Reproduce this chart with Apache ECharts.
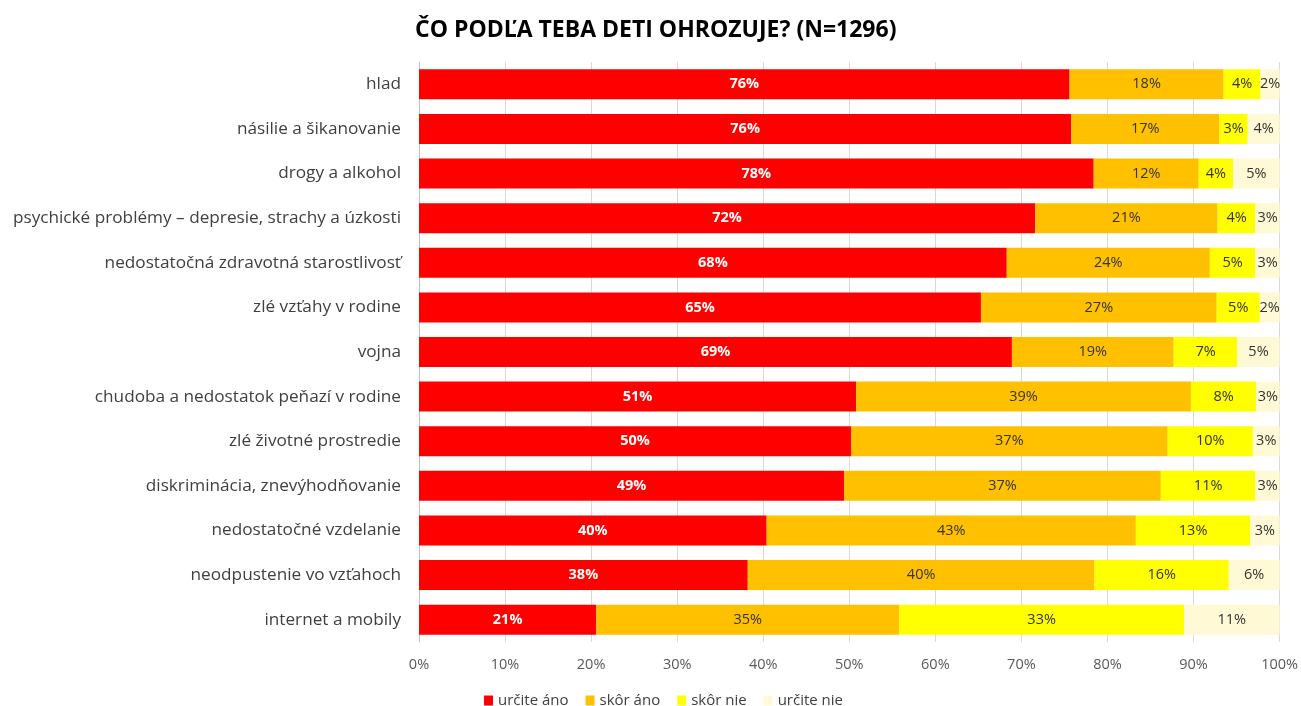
<!DOCTYPE html>
<html>
<head>
<meta charset="utf-8">
<script src="https://cdn.jsdelivr.net/npm/echarts@6/dist/echarts.min.js"></script>
<style>
  html, body { margin: 0; padding: 0; background: #fff; }
  #graf { width: 1301px; height: 706px; }
</style>
</head>
<body>
<div id="graf"></div>
<script>
// Kategórie (zhora nadol)
const kategorie = [
    'hlad',
    'násilie a šikanovanie',
    'drogy a alkohol',
    'psychické problémy – depresie, strachy a úzkosti',
    'nedostatočná zdravotná starostlivosť',
    'zlé vzťahy v rodine',
    'vojna',
    'chudoba a nedostatok peňazí v rodine',
    'zlé životné prostredie',
    'diskriminácia, znevýhodňovanie',
    'nedostatočné vzdelanie',
    'neodpustenie vo vzťahoch',
    'internet a mobily'
];

// Hodnoty v % (odčítané z grafu)
const urciteAno = [75.6, 75.8, 78.4, 71.6, 68.3, 65.3, 68.9, 50.8, 50.2, 49.4, 40.4, 38.2, 20.6];
const skorAno   = [17.9, 17.2, 12.2, 21.2, 23.6, 27.4, 18.8, 38.9, 36.8, 36.8, 42.9, 40.3, 35.2];
const skorNie   = [4.3, 3.3, 4.0, 4.4, 5.3, 5.0, 7.4, 7.6, 9.9, 11.0, 13.3, 15.6, 33.1];
const urciteNie = [2.2, 3.7, 5.4, 2.8, 2.8, 2.3, 4.9, 2.7, 3.1, 2.8, 3.4, 5.9, 11.1];

const osX = ['0%', '10%', '20%', '30%', '40%', '50%', '60%', '70%', '80%', '90%', '100%'];

const FONT = '"Open Sans", Lato, sans-serif';

function serie(nazov, data, farba, farbaTextu, tucne) {
    return {
        name: nazov,
        type: 'bar',
        stack: 'spolu',
        barWidth: 30,
        data: data,
        itemStyle: { color: farba },
        label: {
            show: true,
            position: 'inside',
            fontFamily: FONT,
            fontSize: 14.5,
            fontWeight: tucne ? 'bold' : 'normal',
            color: farbaTextu,
            formatter: p => Math.round(p.value) + '%'
        },
        emphasis: { disabled: true }
    };
}

const chart = echarts.init(document.getElementById('graf'));

const option = {
    animation: false,
    title: {
        text: 'ČO PODĽA TEBA DETI OHROZUJE? (N=1296)',
        left: 410,
        top: 14,
        textStyle: { fontFamily: FONT, fontSize: 23, fontWeight: 'bold', color: '#000' }
    },
    legend: {
        top: 688,
        left: 479,
        icon: 'rect',
        itemWidth: 9,
        itemHeight: 10,
        itemGap: 17,
        textStyle: { fontFamily: FONT, fontSize: 15, color: '#404040' },
        data: ['určite áno', 'skôr áno', 'skôr nie', 'určite nie']
    },
    grid: { left: 419, right: 20, top: 62, height: 580 },
    xAxis: {
        type: 'value',
        min: 0,
        max: 100,
        interval: 10,
        axisLabel: {
            fontFamily: FONT,
            fontSize: 14.5,
            color: '#595959',
            margin: 15,
            formatter: v => osX[v / 10]
        },
        axisLine: { show: false },
        axisTick: { show: false },
        splitLine: { lineStyle: { color: '#d9d9d9', width: 1 } }
    },
    yAxis: {
        type: 'category',
        inverse: true,
        data: kategorie,
        axisLabel: { fontFamily: FONT, fontSize: 17.2, color: '#404040', margin: 18 },
        axisLine: { lineStyle: { color: '#bfbfbf' } },
        axisTick: { show: false }
    },
    series: [
        serie('určite áno', urciteAno, '#FF0000', '#ffffff', true),
        serie('skôr áno', skorAno, '#FFC000', '#333333', false),
        serie('skôr nie', skorNie, '#FFFF00', '#333333', false),
        serie('určite nie', urciteNie, '#FFF9D5', '#333333', false)
    ]
};

chart.setOption(option);
window.addEventListener('resize', () => chart.resize());
</script>
</body>
</html>
